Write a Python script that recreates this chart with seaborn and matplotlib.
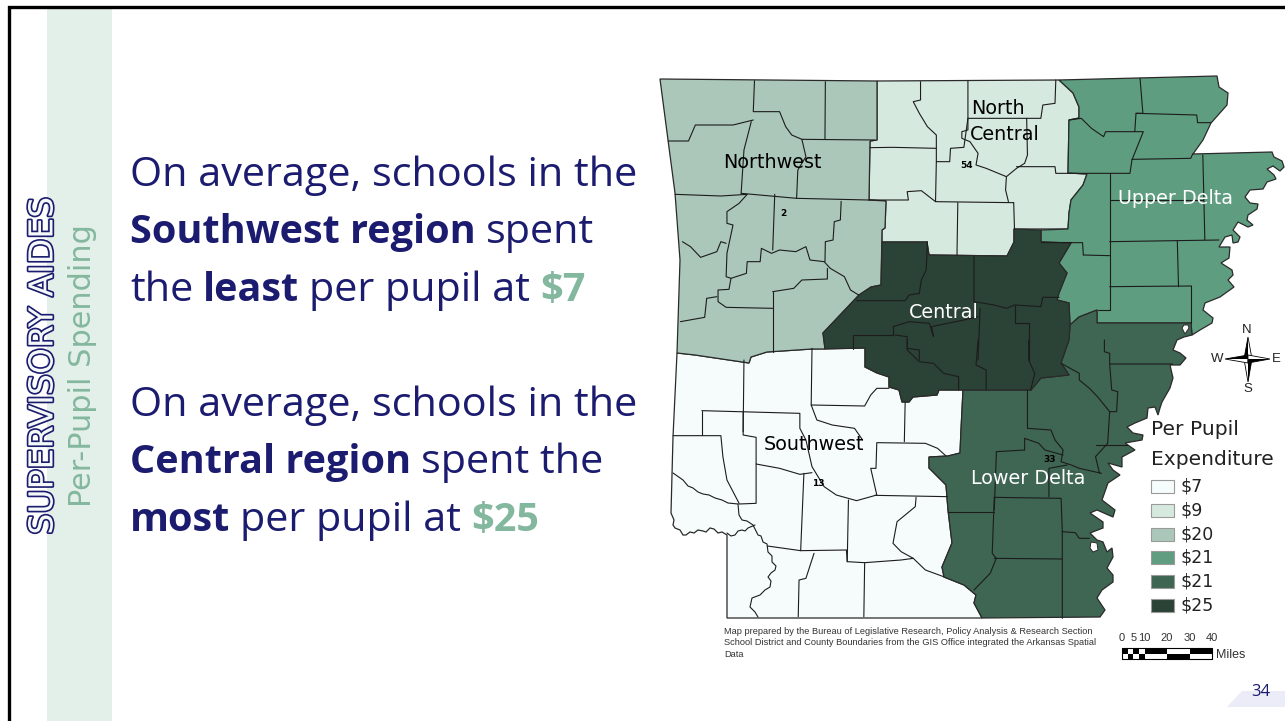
import numpy as np
import pandas as pd
import matplotlib
matplotlib.use('Agg')
import matplotlib.pyplot as plt
import matplotlib.patheffects as pe
import seaborn as sns

# legend of the map
legend_labels = ['$7', '$9', '$20', '$21', '$21', '$25']
region_colors = ['#f6fcfb', '#d6e9df', '#abc7ba', '#5f9d80', '#3f6553', '#2b4236']
region_names = ['Southwest', 'North Central', 'Northwest', 'Upper Delta', 'Lower Delta', 'Central']

# region outlines (x, y in image pixels)
southwest = [(677, 353), (695, 355), (749, 363), (751, 357), (767, 352), (812, 349), (865, 348), (865, 367),
             (877, 373), (889, 377), (889, 387), (899, 390), (902, 402), (909, 402), (913, 397), (937, 395),
             (939, 390), (963, 390), (961, 430), (960, 453), (948, 456), (929, 457), (929, 468), (946, 485),
             (948, 510), (952, 543), (942, 567), (944, 577), (964, 585), (976, 595), (974, 603), (982, 618),
             (727, 618), (727, 535), (722, 532), (718, 533), (714, 529), (710, 528), (706, 532), (703, 531),
             (698, 530), (694, 533), (690, 532), (686, 535), (683, 535), (680, 530), (675, 528), (673, 525),
             (674, 520), (671, 513), (673, 437)]
north_central = [(877, 81), (1059, 80), (1073, 93), (1079, 107), (1079, 118), (1069, 120), (1068, 173), (1087, 174),
                 (1083, 185), (1071, 200), (1069, 213), (1068, 229), (1014, 229), (1014, 242), (1007, 256),
                 (929, 255), (927, 242), (882, 242), (882, 230), (885, 228), (886, 201), (869, 200), (870, 141),
                 (877, 140)]
northwest = [(660, 79), (877, 81), (877, 140), (870, 141), (869, 200), (886, 201), (885, 228), (882, 230),
             (881, 285), (871, 287), (859, 295), (823, 333), (825, 349), (812, 349), (767, 352), (751, 357),
             (749, 363), (695, 355), (677, 353), (680, 260), (675, 193), (668, 140)]
upper_delta = [(1059, 80), (1217, 76), (1219, 87), (1228, 93), (1227, 105), (1211, 123), (1203, 140), (1193, 154),
               (1272, 152), (1274, 157), (1282, 161), (1284, 167), (1280, 171), (1273, 166), (1267, 169),
               (1274, 175), (1276, 179), (1267, 182), (1263, 189), (1250, 190), (1245, 197), (1250, 203),
               (1258, 204), (1257, 209), (1248, 215), (1247, 220), (1253, 225), (1248, 227), (1238, 222),
               (1233, 230), (1240, 237), (1238, 242), (1233, 243), (1232, 235), (1225, 237), (1219, 247),
               (1230, 247), (1229, 258), (1221, 263), (1232, 270), (1233, 275), (1228, 280), (1234, 287),
               (1220, 297), (1205, 303), (1203, 310), (1213, 318), (1212, 323), (1200, 330), (1192, 335),
               (1191, 323), (1103, 323), (1097, 323), (1097, 310), (1079, 317), (1070, 325),
               (1069, 303), (1057, 300), (1059, 293), (1067, 273), (1059, 263), (1071, 243), (1041, 242),
               (1041, 230), (1068, 229), (1069, 213), (1071, 200), (1083, 185), (1087, 174), (1068, 173),
               (1069, 120), (1079, 118), (1079, 107), (1073, 93)]
lower_delta = [(1070, 325), (1079, 317), (1097, 310), (1097, 323), (1191, 323), (1192, 335), (1184, 337), (1177, 340),
               (1173, 350), (1180, 353), (1186, 358), (1180, 365), (1170, 365), (1173, 378), (1170, 388),
               (1162, 402), (1160, 408), (1158, 415), (1155, 407), (1148, 408), (1147, 418), (1135, 423),
               (1127, 427), (1133, 433), (1143, 435), (1142, 440), (1125, 443), (1135, 450), (1122, 457),
               (1122, 467), (1108, 463), (1113, 470), (1120, 475), (1108, 483), (1102, 500), (1115, 510),
               (1113, 517), (1097, 510), (1090, 513), (1103, 522), (1103, 528), (1090, 533), (1097, 540),
               (1103, 542), (1107, 552), (1112, 548), (1113, 557), (1107, 568), (1113, 575), (1113, 582),
               (1102, 590), (1097, 598), (1105, 610), (1100, 617),
               (982, 618), (974, 603), (976, 595), (964, 585), (944, 577), (942, 567), (952, 543),
               (948, 510), (946, 485), (929, 468), (929, 457), (948, 456), (960, 453), (961, 430), (963, 390),
               (1031, 390), (1041, 378), (1069, 375), (1061, 363), (1069, 340)]
central = [(882, 242), (927, 242), (929, 255), (1007, 256), (1014, 242), (1014, 229), (1041, 230), (1041, 242),
           (1071, 243), (1059, 263), (1067, 273), (1059, 293), (1057, 300), (1069, 303), (1070, 325), (1069, 340),
           (1061, 363), (1069, 375), (1041, 378), (1031, 390), (939, 390), (937, 395), (913, 397), (909, 402),
           (902, 402), (899, 390), (889, 387), (889, 377), (877, 373), (865, 367), (865, 348), (825, 349),
           (823, 333), (859, 295), (871, 287), (881, 285)]
region_outlines = [southwest, north_central, northwest, upper_delta, lower_delta, central]

# little white loops of the river
river_holes = [[(1185, 334), (1182, 328), (1184, 325), (1188, 325), (1189, 328)],
               [(1091, 542), (1097, 543), (1098, 550), (1093, 552), (1090, 548)]]

# county lines in the upper half of the map
upper_lines = [
    [(258, 62), (255, 155), (320, 155), (335, 200), (350, 225), (375, 238), (385, 290), (365, 330), (362, 415)],
    [(433, 65), (432, 238)], [(375, 238), (555, 240)],
    [(45, 243), (95, 243), (112, 195), (205, 195), (255, 180)],
    [(250, 185), (232, 270), (225, 400)],
    [(62, 403), (175, 408), (240, 403), (220, 430), (190, 455), (190, 490), (205, 495), (190, 580), (188, 650),
     (200, 655), (238, 640), (240, 605), (272, 605), (275, 565), (300, 580), (320, 570), (360, 575), (385, 560),
     (395, 600), (430, 605), (445, 625), (480, 650), (495, 690), (515, 705)],
    [(225, 400), (362, 415), (540, 420)], [(308, 403), (303, 570)],
    [(472, 424), (470, 480), (455, 485), (452, 540), (433, 545), (432, 605)],
    [(80, 545), (100, 560), (125, 592), (165, 575), (175, 545), (188, 550)],
    [(200, 655), (195, 688), (168, 690), (168, 725), (188, 742), (303, 745)],
    [(303, 695), (355, 685), (375, 660), (438, 657), (438, 625)],
    [(303, 695), (303, 875)], [(75, 785), (135, 772), (140, 715), (165, 710)],
    [(668, 65), (668, 120), (650, 125), (665, 160), (685, 200), (707, 225), (707, 305), (740, 305), (742, 265),
     (775, 262), (785, 175)],
    [(785, 62), (785, 210), (770, 215), (770, 235), (790, 245), (810, 280), (805, 315), (830, 325), (880, 350),
     (878, 390), (885, 425)],
    [(785, 175), (965, 175), (970, 135), (1000, 130), (1002, 60)],
    [(930, 175), (932, 285), (925, 310), (905, 325), (880, 350)],
    [(905, 320), (1000, 320), (1002, 340), (1032, 340)],
    [(543, 263), (600, 262), (707, 265)],
    [(707, 305), (705, 425), (670, 392), (635, 395), (638, 420), (540, 420)],
    [(705, 425), (898, 428)], [(760, 428), (758, 585)], [(898, 428), (900, 508)],
    [(1210, 55), (1217, 160), (1200, 160), (1197, 215)],
    [(1035, 180), (1065, 175), (1090, 205), (1120, 230), (1125, 215), (1218, 215), (1190, 300), (1185, 340), (1032, 340)],
    [(1200, 160), (1350, 165), (1352, 188), (1385, 188)],
    [(1190, 298), (1335, 295), (1340, 282)],
    [(1135, 340), (1135, 750)], [(1365, 285), (1370, 540)], [(1135, 420), (1365, 420)],
    [(1135, 545), (1405, 540)], [(1302, 543), (1305, 680)], [(1135, 680), (1337, 678), (1337, 790)],
    [(1070, 585), (1135, 587)], [(1070, 585), (1068, 548), (1040, 548)], [(1135, 750), (1105, 750)],
    [(965, 545), (1040, 545)],
    [(685, 545), (682, 630), (670, 660), (665, 700), (640, 705), (630, 722), (510, 722)],
    [(800, 590), (800, 725), (850, 735), (880, 745), (900, 735), (965, 740), (970, 712), (1010, 712)],
    [(900, 735), (900, 790), (935, 790), (935, 900)],
    [(815, 745), (810, 900)],
    [(600, 800), (640, 785), (690, 790), (700, 830), (695, 800), (775, 780), (810, 770)],
    [(600, 800), (600, 825), (500, 825), (500, 868)],
    [(605, 825), (635, 830), (635, 865), (665, 870), (665, 900)],
]
# county lines in the lower half of the map
lower_lines = [
    [(635, 0), (635, 30), (665, 65), (700, 70), (725, 100), (762, 110), (762, 150)],
    [(810, 0), (805, 75), (830, 90), (830, 150)],
    [(935, 0), (935, 60), (950, 100), (940, 150)],
    [(1122, 0), (1122, 35), (1135, 40), (1135, 72), (1290, 72)],
    [(1135, 72), (1140, 150), (1155, 155), (1152, 215), (1135, 215), (1130, 310), (1100, 350), (1110, 400)],
    [(1015, 70), (1060, 100), (1060, 120), (1085, 145), (1105, 170), (1135, 215)],
    [(932, 150), (932, 265), (990, 270), (1000, 300), (1020, 330), (1015, 365), (1040, 375), (1060, 385), (1115, 400)],
    [(925, 330), (925, 295), (960, 310), (975, 330), (1020, 345)],
    [(855, 348), (855, 335), (925, 330)], [(855, 348), (850, 510)], [(735, 515), (850, 515)],
    [(850, 472), (1015, 475), (1018, 575), (1018, 835)], [(985, 470), (985, 385), (1030, 375)],
    [(850, 655), (1018, 657)],
    [(850, 472), (845, 640), (855, 655), (840, 700), (800, 750)],
    [(1018, 575), (1050, 578), (1060, 595), (1085, 595)],
    [(1100, 315), (1180, 315)],
    [(232, 60), (230, 275)],
    [(400, 25), (398, 195), (530, 198), (545, 165), (560, 145), (590, 145)],
    [(398, 195), (412, 240), (450, 255), (505, 265), (525, 300)],
    [(630, 187), (628, 305)],
    [(128, 212), (370, 220), (370, 265), (385, 300), (400, 380), (430, 440), (460, 465), (510, 482), (560, 465),
     (545, 385), (558, 385), (560, 308), (680, 310), (710, 325), (730, 347)],
    [(128, 212), (128, 285)],
    [(230, 215), (230, 285), (262, 292), (262, 490), (220, 492)],
    [(57, 287), (175, 287), (180, 350), (190, 420), (220, 490)],
    [(262, 372), (320, 385), (370, 403), (400, 398)],
    [(380, 400), (372, 632), (290, 618)],
    [(372, 632), (485, 630), (487, 665)],
    [(405, 640), (385, 715), (368, 720), (366, 830)],
    [(490, 480), (487, 665), (530, 668), (528, 830)],
    [(530, 668), (620, 660), (650, 655), (680, 690), (725, 710)],
    [(555, 466), (735, 470)],
    [(657, 472), (655, 500), (610, 545), (600, 610), (620, 635), (650, 655)],
]
# rivers of the south west, already in image pixels
river_lines = [
    [(673, 473), (683, 480), (688, 486), (693, 488), (698, 492), (703, 494), (709, 495), (715, 498), (722, 500),
     (728, 503), (738, 504)],
    [(727, 533), (731, 536), (735, 535), (738, 531), (742, 530), (745, 531), (748, 528), (755, 525)],
    [(738, 504), (739, 515), (742, 520), (747, 521), (753, 525), (756, 531), (758, 535), (761, 536), (763, 542),
     (767, 544), (768, 552), (772, 556), (772, 562), (776, 566), (775, 570), (771, 573), (768, 577), (771, 581),
     (770, 587), (765, 590), (760, 595), (752, 598), (750, 607), (755, 612), (758, 617)],
]

# text of the slide
body_lines = [
    [('On average, schools in the', False, 'n')],
    [('Southwest region', True, 'n'), ('spent', False, 'n')],
    [('the', False, 'n'), ('least', True, 'n'), ('per pupil at', False, 'n'), ('$7', True, 'g')],
    [('On average, schools in the', False, 'n')],
    [('Central region', True, 'n'), ('spent the', False, 'n')],
    [('most', True, 'n'), ('per pupil at', False, 'n'), ('$25', True, 'g')],
]
body_baselines = [186, 243, 301, 416, 473, 531]
map_labels = [('Northwest', 772, 163, 'black'), ('North', 998, 108, 'black'), ('Central', 1005, 134, 'black'),
              ('Upper Delta', 1175, 198, 'white'), ('Central', 944, 313, 'white'),
              ('Southwest', 814, 445, 'black'), ('Lower Delta', 1028, 479, 'white')]
small_labels = [('54', 967, 166), ('2', 783, 213), ('13', 818, 484), ('33', 1050, 460)]
note_lines = ['Map prepared by the Bureau of Legislative Research, Policy Analysis & Research Section',
              'School District and County Boundaries from the GIS Office integrated the Arkansas Spatial',
              'Data']
scale_labels = ['0', '5', '10', '20', '30', '40']
scale_miles = [0, 5, 10, 20, 30, 40]
scale_cells = [0, 2.5, 5, 7.5, 10, 20, 30, 40]
scale_top = ['k', 'w', 'k', 'w', 'k', 'w', 'k']
scale_bottom = ['w', 'k', 'w', 'k', 'w', 'k', 'w']

navy = '#1b1b6f'
green = '#83b79e'
text_colors = {'n': navy, 'g': green}


def upper_px(p):
    return 650 + p[0] * 0.405, 60 + p[1] / 3


def lower_px(p):
    return 650 + p[0] * 0.405, 340 + p[1] / 3


# long table so seaborn can draw all the county lines
rows = []
for i, line in enumerate(upper_lines):
    rows += [(i, *upper_px(p)) for p in line]
for i, line in enumerate(lower_lines):
    rows += [(i + 1000, *lower_px(p)) for p in line]
for i, line in enumerate(river_lines):
    rows += [(i + 2000, *p) for p in line]
df_lines = pd.DataFrame(rows, columns=['line', 'x', 'y'])

sns.set_theme(style='white')
plt.rcParams['font.family'] = ['Open Sans', 'DejaVu Sans']

fig = plt.figure(figsize=(12.85, 7.21), dpi=100)
ax = fig.add_axes([0, 0, 1, 1])

# slide furniture
ax.fill_between([47, 112], 8, 721, color='#e3efe9', lw=0, zorder=0)
ax.plot([9, 9, 1285], [721, 7, 7], color='black', lw=2.4, zorder=1, solid_joinstyle='miter')
ax.fill([1227, 1285, 1285, 1242], [707, 707, 691, 691], color='#ecebf8', lw=0, zorder=1)
ax.text(1261, 692, '34', color=navy, fontsize=12, ha='center', va='center', zorder=2)

# map
palette = sns.color_palette(region_colors)
for outline, col in zip(region_outlines, palette):
    ax.fill(*zip(*outline), facecolor=col, edgecolor='#2a2a2a', lw=0.9, zorder=2)
for hole in river_holes:
    ax.fill(*zip(*hole), facecolor='white', edgecolor='#2a2a2a', lw=0.7, zorder=4)
sns.lineplot(data=df_lines, x='x', y='y', units='line', estimator=None, sort=False,
             color='#1c1c1c', lw=0.8, legend=False, ax=ax, zorder=3)

for name, x, y, col in map_labels:
    ax.text(x, y, name, color=col, fontsize=13.8, family='DejaVu Sans', ha='center', va='center', zorder=5)
for name, x, y in small_labels:
    ax.text(x, y, name, color='black', fontsize=6.5, weight='bold', family='DejaVu Sans', ha='center', va='center', zorder=5)

# legend
ax.text(1151, 435, 'Per Pupil', color='#222222', fontsize=14.6, family='DejaVu Sans', va='baseline', zorder=5)
ax.text(1151, 465, 'Expenditure', color='#222222', fontsize=14.6, family='DejaVu Sans', va='baseline', zorder=5)
for i, (lab, col) in enumerate(zip(legend_labels, palette)):
    y0 = 480 + i * 23.8
    ax.fill([1151, 1174, 1174, 1151], [y0, y0, y0 + 13, y0 + 13], facecolor=col, edgecolor='#9a9a9a', lw=0.8, zorder=3)
    ax.text(1181, y0 + 6.5, lab, color='#222222', fontsize=12.5, family='DejaVu Sans', va='center', zorder=5)

# compass, every arm is half black half white
cx, cy = 1248, 359
for dx, dy in [(0, -22), (0, 23), (-23, 0), (22, 0)]:
    px, py = (4, 0) if dx == 0 else (0, 4)
    ax.fill([cx + dx, cx + px, cx - px], [cy + dy, cy + py, cy - py], facecolor='white', edgecolor='black', lw=0.6, zorder=4)
    sx, sy = (px, py) if dx + dy > 0 else (-px, -py)
    ax.fill([cx + dx, cx + sx, cx], [cy + dy, cy + sy, cy], color='black', lw=0, zorder=4)
ax.text(1247, 330, 'N', fontsize=9.5, ha='center', va='center', family='Liberation Sans', color='#222222')
ax.text(1248, 389, 'S', fontsize=9.5, ha='center', va='center', family='Liberation Sans', color='#222222')
ax.text(1217, 359, 'W', fontsize=9.5, ha='center', va='center', family='Liberation Sans', color='#222222')
ax.text(1276, 359, 'E', fontsize=9.5, ha='center', va='center', family='Liberation Sans', color='#222222')

# footnote and scale bar
for i, line in enumerate(note_lines):
    ax.text(724, 631 + i * 11.6, line, fontsize=6.7, family='Liberation Sans', color='#333333', va='center')
for lab, m in zip(scale_labels, scale_miles):
    ax.text(1122 + m * 2.25, 638, lab, fontsize=8, family='Liberation Sans', color='#333333', ha='center', va='center')
for j in range(len(scale_top)):
    x0 = 1122 + scale_cells[j] * 2.25
    x1 = 1122 + scale_cells[j + 1] * 2.25
    ax.fill([x0, x1, x1, x0], [648, 648, 653.5, 653.5], color='black' if scale_top[j] == 'k' else 'white', lw=0)
    ax.fill([x0, x1, x1, x0], [653.5, 653.5, 659, 659], color='black' if scale_bottom[j] == 'k' else 'white', lw=0)
ax.plot([1122, 1212, 1212, 1122, 1122], [648, 648, 659, 659, 648], color='black', lw=0.8)
ax.text(1216, 655, 'Miles', fontsize=9, family='Liberation Sans', color='#333333', va='center')

# side titles
title = ax.text(43, 366, 'SUPERVISORY AIDES', rotation=90, ha='center', va='center', fontsize=23.8,
                family='Liberation Sans Narrow', color='#f4f8f6', zorder=4)
title.set_path_effects([pe.withStroke(linewidth=2.4, foreground=navy)])
ax.text(83, 366, 'Per-Pupil Spending', rotation=90, ha='center', va='center', fontsize=21.9,
        family='Liberation Sans Narrow', color=green, zorder=4)

# body text, pieces are put one after another because of the bold words
fig.canvas.draw()
rend = fig.canvas.get_renderer()
for parts, base in zip(body_lines, body_baselines):
    x = 130
    for s, bold, c in parts:
        t = ax.text(x, base, s, fontsize=28.5 if bold else 29.8, color=text_colors[c], va='baseline',
                    weight='bold' if bold else 'normal')
        x += t.get_window_extent(rend).width + 10

ax.set_xlim(0, 1285)
ax.set_ylim(721, 0)
ax.axis('off')
fig.savefig('out.png', dpi=100)
